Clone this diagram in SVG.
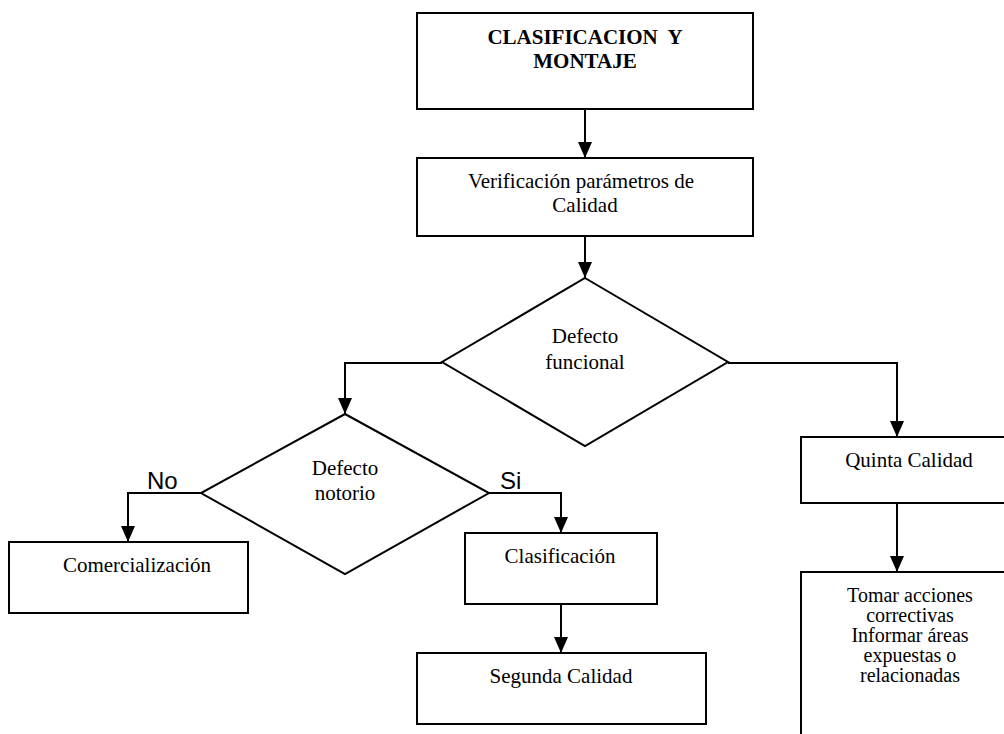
<svg xmlns="http://www.w3.org/2000/svg" width="1004" height="734" viewBox="0 0 1004 734">
  <style>
    .box { fill: #ffffff; stroke: #000000; stroke-width: 2; }
    .link { fill: none; stroke: #000000; stroke-width: 2; }
    .t { font-family: "Liberation Serif", "Times New Roman", serif; font-size: 21px; fill: #000000; text-anchor: middle; }
    .tb { font-weight: bold; }
    .ts { font-size: 20px; }
    .lbl { font-family: "Liberation Sans", Arial, sans-serif; font-size: 24px; fill: #000000; }
  </style>
  <defs>
    <marker id="arrow" viewBox="0 0 16 14" refX="16" refY="7" markerWidth="16" markerHeight="14" markerUnits="userSpaceOnUse" orient="auto">
      <path d="M0,0 L16,7 L0,14 Z" fill="#000000"/>
    </marker>
  </defs>

  <rect width="1004" height="734" fill="#ffffff"/>

  <!-- connectors -->
  <g id="connectors">
    <path class="link" d="M585,109 V158" marker-end="url(#arrow)"/>
    <path class="link" d="M585,236 V278" marker-end="url(#arrow)"/>
    <path class="link" d="M442,363 H345 V414" marker-end="url(#arrow)"/>
    <path class="link" d="M728,363 H897 V437" marker-end="url(#arrow)"/>
    <path class="link" d="M201,493 H128 V542" marker-end="url(#arrow)"/>
    <path class="link" d="M488,493 H561 V533" marker-end="url(#arrow)"/>
    <path class="link" d="M561,604 V653" marker-end="url(#arrow)"/>
    <path class="link" d="M897,503 V572" marker-end="url(#arrow)"/>
  </g>

  <!-- branch labels -->
  <g id="labels">
    <text class="lbl" x="147" y="489">No</text>
    <text class="lbl" x="500" y="489">Si</text>
  </g>

  <g id="clasificacion-montaje">
    <rect class="box" x="417" y="13" width="336" height="96"/>
    <text class="t tb" x="585" y="44" xml:space="preserve">CLASIFICACION  Y</text>
    <text class="t tb" x="585" y="68">MONTAJE</text>
  </g>

  <g id="verificacion">
    <rect class="box" x="417" y="158" width="336" height="78"/>
    <text class="t" x="581" y="188">Verificación parámetros de</text>
    <text class="t" x="585" y="212">Calidad</text>
  </g>

  <g id="defecto-funcional">
    <polygon class="box" points="585,278 728,362 585,446 442,362"/>
    <text class="t" x="585" y="343">Defecto</text>
    <text class="t" x="585" y="369">funcional</text>
  </g>

  <g id="defecto-notorio">
    <polygon class="box" points="345,414 489,493 345,574 201,493"/>
    <text class="t" x="345" y="475">Defecto</text>
    <text class="t" x="345" y="500">notorio</text>
  </g>

  <g id="comercializacion">
    <rect class="box" x="9" y="542" width="239" height="71"/>
    <text class="t" x="137" y="572">Comercialización</text>
  </g>

  <g id="clasificacion">
    <rect class="box" x="465" y="533" width="192" height="71"/>
    <text class="t" x="560" y="563">Clasificación</text>
  </g>

  <g id="segunda-calidad">
    <rect class="box" x="417" y="653" width="289" height="71"/>
    <text class="t" x="561" y="683">Segunda Calidad</text>
  </g>

  <g id="quinta-calidad">
    <rect class="box" x="801" y="437" width="220" height="66"/>
    <text class="t" x="909" y="467">Quinta Calidad</text>
  </g>

  <g id="acciones-correctivas">
    <rect class="box" x="801" y="572" width="220" height="180"/>
    <text class="t ts" x="910" y="602">Tomar acciones</text>
    <text class="t ts" x="910" y="622">correctivas</text>
    <text class="t ts" x="910" y="642">Informar áreas</text>
    <text class="t ts" x="910" y="662">expuestas o</text>
    <text class="t ts" x="910" y="682">relacionadas</text>
  </g>
</svg>
